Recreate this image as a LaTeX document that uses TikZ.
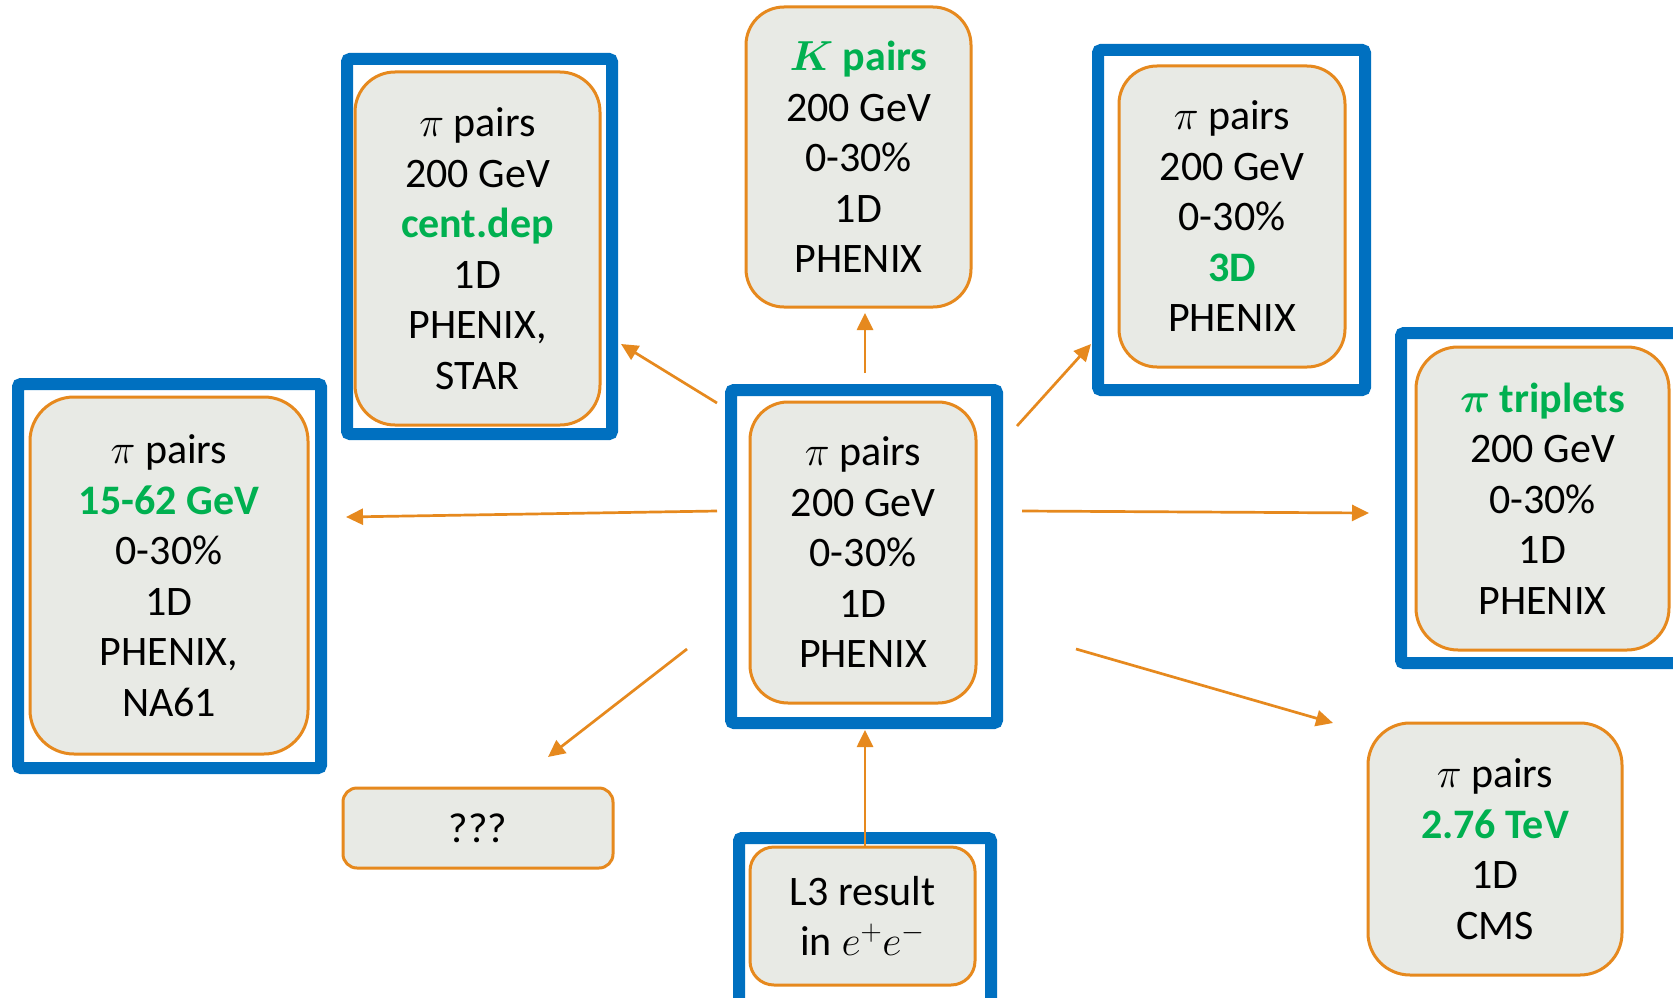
\RequirePackage{fix-cm}
\documentclass[tikz,border=0pt]{standalone}
\usepackage{fontspec}
\usepackage{bm}
\setmainfont{Carlito}
\usetikzlibrary{arrows.meta}
\definecolor{boxorange}{HTML}{E6891E}
\definecolor{boxfill}{HTML}{E8EAE5}
\definecolor{frameblue}{HTML}{0070C0}
\definecolor{hlgreen}{HTML}{00B050}
\tikzset{
  obox/.style={draw=boxorange, line width=3pt, fill=boxfill, align=center, inner sep=0pt,
    font=\fontsize{42}{50.5}\selectfont, text=black},
  bframe/.style={draw=frameblue, line width=12pt, rounded corners=3pt, inner sep=0pt},
  conn/.style={draw=boxorange, line width=2.7pt, -{Triangle[length=17pt,width=16pt]}}
}
\newcommand{\hg}[1]{\textcolor{hlgreen}{\bfseries #1}}
\begin{document}
\begin{tikzpicture}[x=1pt,y=-1pt]
\useasboundingbox[fill=white] (0,0) rectangle (1673,998);
\clip (0,0) rectangle (1673,998);
% blue frames
\node[bframe, minimum width=265pt, minimum height=375pt] (cdF) at (479.5,246.5) {};
\node[bframe, minimum width=266pt, minimum height=333pt] (centF) at (864,556.5) {};
\node[bframe, minimum width=267pt, minimum height=340pt] (tdF) at (1231.5,220) {};
\node[bframe, minimum width=303pt, minimum height=384pt] (lfF) at (169.5,576) {};
\node[bframe, minimum width=299pt, minimum height=330pt] (trF) at (1550.5,498) {};
\node[bframe, minimum width=252pt, minimum height=172pt] (l3F) at (865,924) {};
% orange boxes
\node[obox, rounded corners=38pt, minimum width=226pt, minimum height=301pt] (cent) at (863,552.5)
  {$\pi$ pairs\\200 GeV\\0-30\%\\1D\\PHENIX};
\node[obox, rounded corners=38pt, minimum width=225pt, minimum height=300pt] (kp) at (858.5,157)
  {\hg{$\bm{K}$ pairs}\\200 GeV\\0-30\%\\1D\\PHENIX};
\node[obox, rounded corners=40pt, minimum width=245pt, minimum height=353pt] (cd) at (477.5,248.5)
  {$\pi$ pairs\\200 GeV\\\hg{cent.dep}\\1D\\PHENIX,\\STAR};
\node[obox, rounded corners=38pt, minimum width=226pt, minimum height=301pt] (td) at (1232,216.5)
  {$\pi$ pairs\\200 GeV\\0-30\%\\\hg{3D}\\PHENIX};
\node[obox, rounded corners=44pt, minimum width=278pt, minimum height=357pt] (lf) at (169,575.5)
  {$\pi$ pairs\\\hg{15-62 GeV}\\0-30\%\\1D\\PHENIX,\\NA61};
\node[obox, rounded corners=42pt, minimum width=253pt, minimum height=303pt] (tr) at (1542.5,498.5)
  {\hg{$\bm{\pi}$ triplets}\\200 GeV\\0-30\%\\1D\\PHENIX};
\node[obox, rounded corners=42pt, minimum width=254pt, minimum height=252pt] (cms) at (1495,849)
  {$\pi$ pairs\\\hg{2.76 TeV}\\1D\\CMS};
\node[obox, rounded corners=14pt, minimum width=270pt, minimum height=80pt] (qq) at (478,828)
  {???};
\node[obox, rounded corners=24pt, minimum width=225pt, minimum height=138pt] (l3) at (862.5,916)
  {L3 result\\in $e^{+}e^{-}$};
% connector end points
\coordinate (s1) at (717,403); \coordinate (t1) at (621,344);
\coordinate (s2) at (717,511); \coordinate (t2) at (346,517);
\coordinate (s3) at (687,649); \coordinate (t3) at (548,757);
\coordinate (s4) at (865,373); \coordinate (t4) at (865,313);
\coordinate (s5) at (1017,426); \coordinate (t5) at (1091,344);
\coordinate (s6) at (1022,511); \coordinate (t6) at (1369,513);
\coordinate (s7) at (1076,649); \coordinate (t7) at (1333,723);
\coordinate (t8) at (865,730);
% connectors
\draw[conn] (s1) -- (t1);
\draw[conn] (s2) -- (t2);
\draw[conn] (s3) -- (t3);
\draw[conn] (s4) -- (t4);
\draw[conn] (s5) -- (t5);
\draw[conn] (s6) -- (t6);
\draw[conn] (s7) -- (t7);
\draw[conn] (l3.north -| t8) -- (t8);
\end{tikzpicture}
\end{document}
